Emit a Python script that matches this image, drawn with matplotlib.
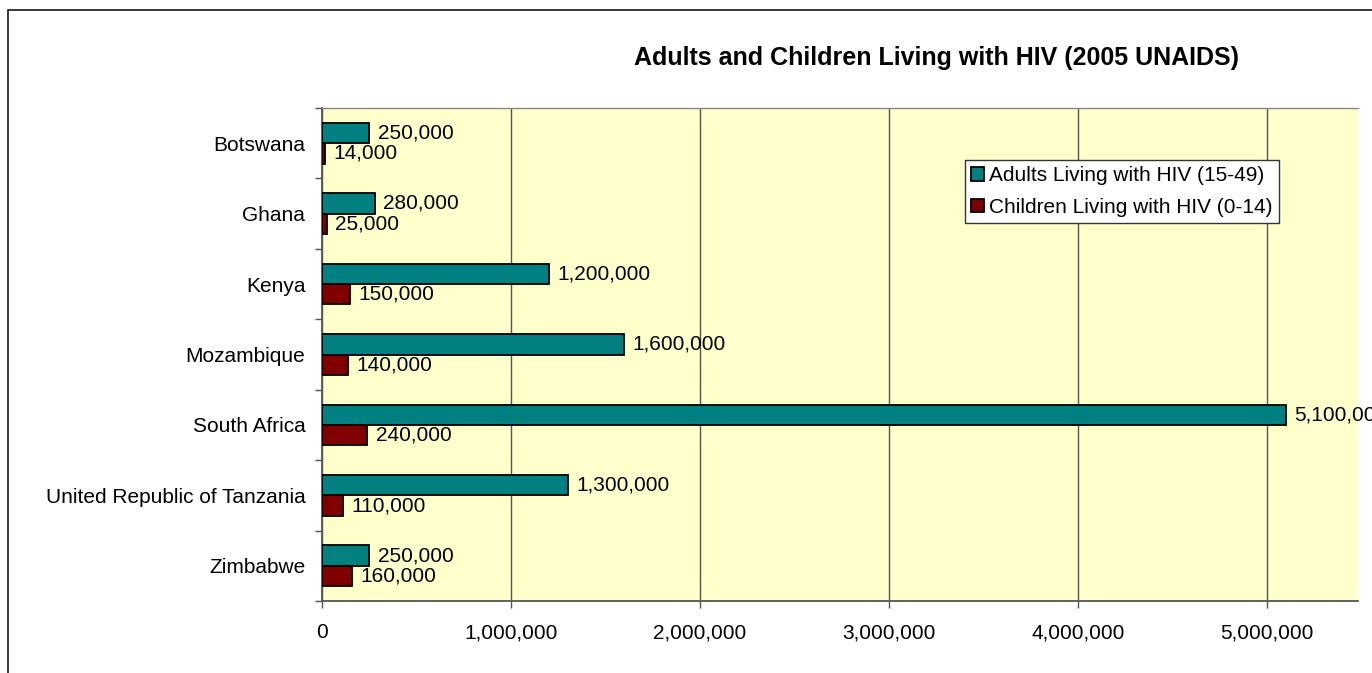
import matplotlib
matplotlib.use('Agg')
import matplotlib.pyplot as plt
import matplotlib.ticker as mticker
from matplotlib.patches import Rectangle
import numpy as np

# dados do gráfico
paises = ['Botswana', 'Ghana', 'Kenya', 'Mozambique', 'South Africa',
          'United Republic of Tanzania', 'Zimbabwe']
adultos = [250000, 280000, 1200000, 1600000, 5100000, 1300000, 250000]
criancas = [14000, 25000, 150000, 140000, 240000, 110000, 160000]
serie_adultos = 'Adults Living with HIV (15-49)'
serie_criancas = 'Children Living with HIV (0-14)'
titulo = 'Adults and Children Living with HIV (2005 UNAIDS)'
x_ticks = [0, 1000000, 2000000, 3000000, 4000000, 5000000]

plt.rcParams['font.family'] = ['Liberation Sans', 'DejaVu Sans']

W, H = 1372, 673
fig = plt.figure(figsize=(W / 100, H / 100), dpi=100)
fig.patch.set_facecolor('white')

# moldura do gráfico (cortada à direita e embaixo)
fig.add_artist(Rectangle((7.5 / W, -0.1), 2, (H - 10) / H + 0.1,
                         transform=fig.transFigure, fill=False,
                         edgecolor='black', linewidth=1.1))

ax = fig.add_axes([322 / W, (H - 601) / H, (1358 - 322) / W, (601 - 108) / H])
ax.set_facecolor('#FFFFCC')

y = np.arange(len(paises))
h = 0.29
b1 = ax.barh(y - h / 2, adultos, height=h, color='#008080', edgecolor='black',
             linewidth=1.3, label=serie_adultos, zorder=3)
b2 = ax.barh(y + h / 2, criancas, height=h, color='#800000', edgecolor='black',
             linewidth=1.3, label=serie_criancas, zorder=3)

# rótulos de valor ao lado das barras
for barras in (b1, b2):
    for barra in barras:
        v = barra.get_width()
        t = ax.annotate(f'{v:,.0f}', (v, barra.get_y() + barra.get_height() / 2),
                        xytext=(6, 0), textcoords='offset points',
                        ha='left', va='center', fontsize=15, zorder=4)
        t.set_clip_on(True)

ax.set_xlim(0, (1358 - 322) / 189 * 1e6)
ax.set_ylim(len(paises) - 0.5, -0.5)

ax.set_xticks(x_ticks)
ax.xaxis.set_major_formatter(mticker.FuncFormatter(lambda v, p: f'{v:,.0f}'))
ax.tick_params(axis='x', length=5, width=1, color='#555555', labelsize=15, pad=11)
ax.grid(axis='x', color='#555555', linewidth=1, zorder=1)

# ticks nas divisões das categorias, rótulos no centro
ax.set_yticks(np.arange(len(paises) + 1) - 0.5)
ax.set_yticklabels([])
ax.set_yticks(y, minor=True)
ax.set_yticklabels(paises, minor=True)
ax.tick_params(axis='y', which='major', length=5, width=1, color='#555555')
ax.tick_params(axis='y', which='minor', length=0, labelsize=15, pad=12)

for lado in ('left', 'bottom'):
    ax.spines[lado].set_color('#555555')
    ax.spines[lado].set_linewidth(1.3)
ax.spines['top'].set_color('#888888')
ax.spines['top'].set_linewidth(1)
ax.spines['right'].set_visible(False)

fig.text(936 / W, 1 - 58 / H, titulo, ha='center', va='center',
         fontsize=18, fontweight='bold')

leg = ax.legend(loc='upper left', bbox_to_anchor=(965 / W, 1 - 160 / H),
                bbox_transform=fig.transFigure, borderaxespad=0, fontsize=15,
                frameon=True, fancybox=False, framealpha=1, edgecolor='#333333',
                handlelength=0.6, handleheight=0.6, handletextpad=0.25,
                borderpad=0.3, labelspacing=0.6)
leg.get_frame().set_linewidth(1)

fig.savefig('out.png', dpi=100)
